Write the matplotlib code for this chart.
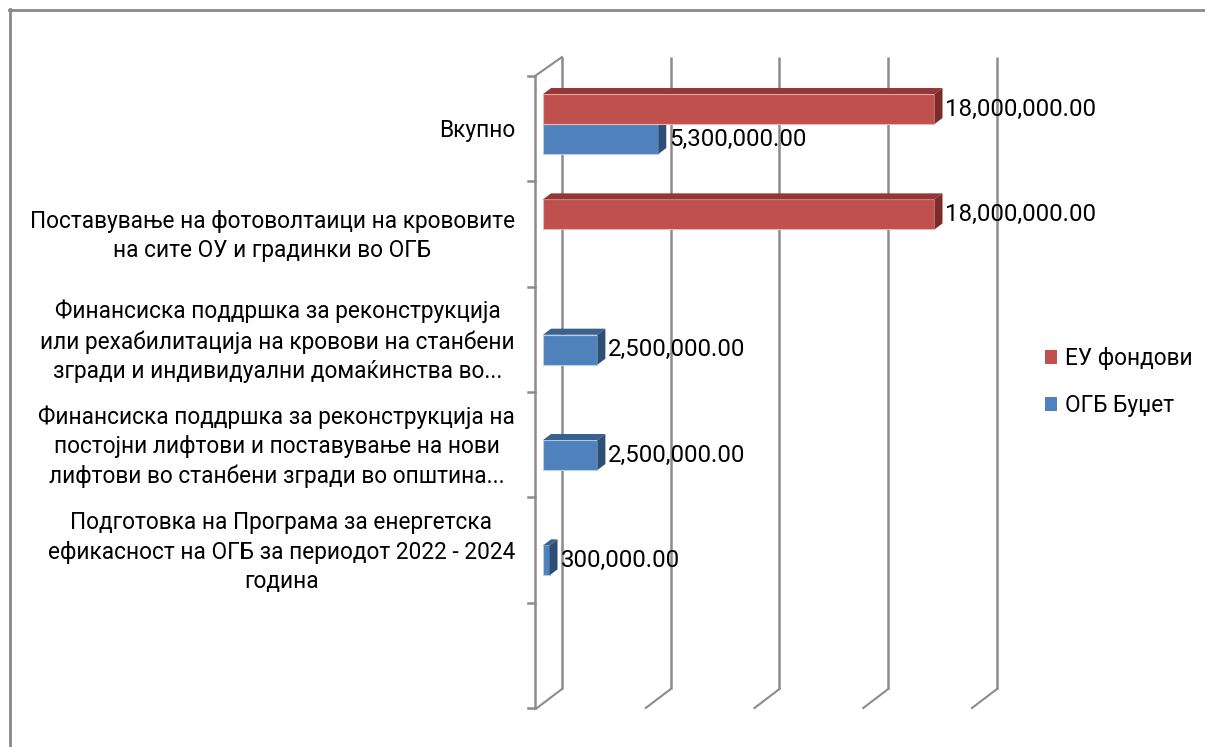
import matplotlib.pyplot as plt
from matplotlib.lines import Line2D
from matplotlib.patches import Patch, Polygon

# Chart data
categories = [
    'Вкупно',
    'Поставување на фотоволтаици на крововите\nна сите ОУ и градинки во ОГБ',
    'Финансиска поддршка за реконструкција\nили рехабилитација на кровови на станбени\n'
    'згради и индивидуални домаќинства во...',
    'Финансиска поддршка за реконструкција на\nпостојни лифтови и поставување на нови\n'
    'лифтови во станбени згради во општина...',
    'Подготовка на Програма за енергетска\nефикасност на ОГБ за периодот 2022 - 2024\nгодина',
]
eu_funds = [18000000, 18000000, None, None, None]
ogb_budget = [5300000, None, 2500000, 2500000, 300000]
series_names = ['ЕУ фондови', 'ОГБ Буџет']
grid_values = [0, 5000000, 10000000, 15000000, 20000000]
n_slots = 6

# Colours (front, top, side, edge)
red = ('#C0504D', '#953735', '#7B2C2A', '#E6B9B8')
blue = ('#4F81BD', '#3A6090', '#2F4E75', '#B9CDE5')
grid_color = '#8C8C8C'

plt.rcParams['font.family'] = ['Roboto', 'DejaVu Sans']

W, H = 1205, 747
fig = plt.figure(figsize=(W / 100, H / 100), dpi=100)
ax = fig.add_axes([0, 0, 1, 1])
ax.axis('off')

# pixel geometry of the front plane
unit_per_px = 1e6 / 21.75
x0_px, y0_px, slot_px = 537, 76, 105.33
ax.set_xlim(-x0_px * unit_per_px, (W - x0_px) * unit_per_px)
ax.set_ylim((H - y0_px) / slot_px, -y0_px / slot_px)

# depth vector (front -> back wall)
ddx = 25 * unit_per_px
ddy = -19 / slot_px

# back wall gridlines and floor diagonals
for v in grid_values:
    ax.plot([v + ddx, v + ddx], [ddy, n_slots + ddy], color=grid_color, lw=1.8,
            zorder=1, solid_capstyle='butt')
    ax.plot([v, v + ddx], [n_slots, n_slots + ddy], color=grid_color, lw=1.5, zorder=1)

# left wall with category ticks
axis_x = -2 * unit_per_px
ax.plot([axis_x, axis_x], [0, n_slots], color=grid_color, lw=1.8, zorder=1)
ax.plot([axis_x, ddx], [0, ddy], color=grid_color, lw=1.5, zorder=1)
for k in range(n_slots + 1):
    ax.plot([axis_x - 7 * unit_per_px, axis_x], [k, k], color=grid_color, lw=1.8, zorder=1)

# 3D bars
bar_h = 30 / slot_px
f0, t = 0.24, 0.32
xoff, yoff = f0 * ddx, f0 * ddy


def draw_bar(center, value, colors):
    front, top, side, edge = colors
    ytop, ybot = center - bar_h / 2 + yoff, center + bar_h / 2 + yoff
    ax.barh(center + yoff, value, left=xoff, height=bar_h, color=front,
            edgecolor=edge, linewidth=0.8, zorder=3)
    x1 = xoff + value
    ax.add_patch(Polygon([(xoff, ytop), (x1, ytop), (x1 + t * ddx, ytop + t * ddy),
                          (xoff + t * ddx, ytop + t * ddy)], closed=True,
                         facecolor=top, edgecolor='none', zorder=3))
    ax.add_patch(Polygon([(x1, ytop), (x1 + t * ddx, ytop + t * ddy),
                          (x1 + t * ddx, ybot + t * ddy), (x1, ybot)], closed=True,
                         facecolor=side, edgecolor='none', zorder=3))
    ax.text(x1 + t * ddx + 3 * unit_per_px, center + yoff, f'{value:,.2f}',
            ha='left', va='center', fontsize=17.3, color='#000000', zorder=5)


for i, cat in enumerate(categories):
    c = i + 0.5
    if ogb_budget[i]:
        draw_bar(c + bar_h / 2, ogb_budget[i], blue)
    if eu_funds[i]:
        draw_bar(c - bar_h / 2, eu_funds[i], red)
    ax.text((515 - x0_px) * unit_per_px, c + 0.02, cat, ha='right', va='center',
            multialignment='center', fontsize=16.3, linespacing=1.36, color='#000000')

# legend
handles = [Patch(facecolor=red[0]), Patch(facecolor=blue[0])]
fig.legend(handles, series_names, loc='center left', bbox_to_anchor=(1036 / W, 1 - 382 / H),
           borderaxespad=0, frameon=False, fontsize=16.3, handlelength=0.53,
           handleheight=0.55, handletextpad=0.35, labelspacing=1.05)

# outer chart border
fig.add_artist(Line2D([9 / W, 1], [1 - 9.5 / H, 1 - 9.5 / H], color='#888888', lw=2))
fig.add_artist(Line2D([9.5 / W, 9.5 / W], [0, 1 - 9 / H], color='#888888', lw=2))

plt.savefig('out.png', dpi=100)
